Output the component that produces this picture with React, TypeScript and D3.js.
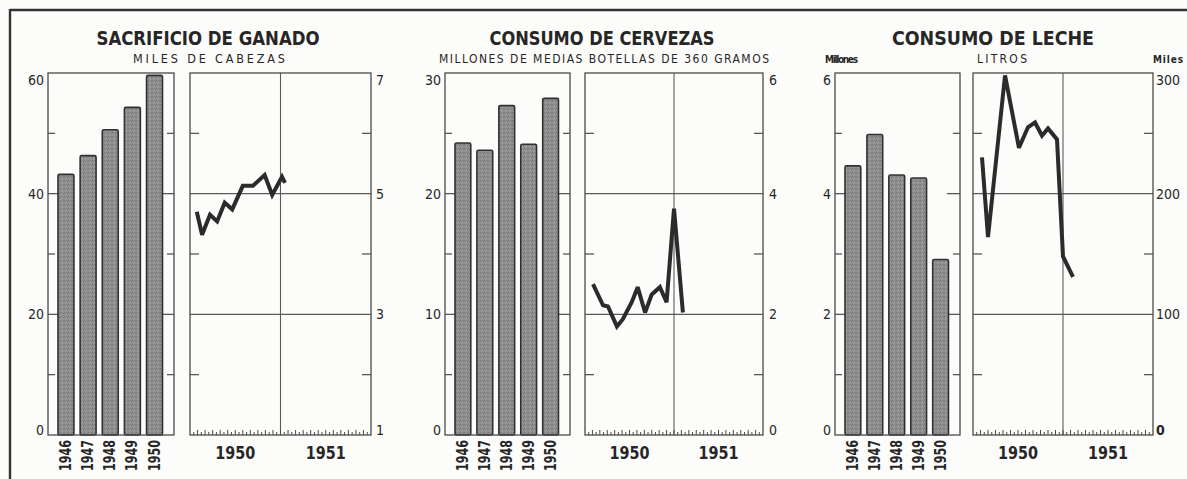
import React from "react";
import * as d3 from "d3";

// ---------- data ----------
const barYears = ["1946", "1947", "1948", "1949", "1950"];

const ganadoBars = [43.2, 46.3, 50.6, 54.3, 59.6];
const cervezaBars = [24.2, 23.6, 27.3, 24.1, 27.9];
const lecheBars = [4.46, 4.98, 4.31, 4.26, 2.91];

// month position (months since Jan 1950) and value
const ganadoMonths = [0.9, 1.6, 2.65, 3.6, 4.6, 5.6, 7.0, 8.35, 9.9, 10.9, 12.2, 12.6];
const ganadoLine = [4.7, 4.32, 4.65, 4.54, 4.85, 4.74, 5.13, 5.13, 5.31, 4.98, 5.28, 5.18];

const cervezaMonths = [1.08, 2.43, 3.1, 4.3, 5.1, 6.3, 7.1, 8.1, 9.0, 10.1, 11.0, 12.0, 13.2];
const cervezaLine = [2.5, 2.15, 2.13, 1.8, 1.92, 2.2, 2.45, 2.03, 2.33, 2.45, 2.2, 3.75, 2.03];

const lecheMonths = [1.2, 2.0, 4.27, 6.13, 7.33, 8.27, 9.2, 10.0, 11.2, 12.0, 13.33];
const lecheLine = [230, 164, 298, 238, 255, 259, 248, 254, 245, 148, 131];

const ganadoLeftTicks = [0, 20, 40, 60];
const ganadoLeftMinor = [10, 30, 50];
const ganadoRightTicks = [1, 3, 5, 7];
const ganadoRightMinor = [2, 4, 6];

const cervezaLeftTicks = [0, 10, 20, 30];
const cervezaLeftMinor = [5, 15, 25];
const cervezaRightTicks = [0, 2, 4, 6];
const cervezaRightMinor = [1, 3, 5];

const lecheLeftTicks = [0, 2, 4, 6];
const lecheLeftMinor = [1, 3, 5];
const lecheRightTicks = [0, 100, 200, 300];
const lecheRightMinor = [50, 150, 250];

const lineYearLabels = ["1950", "1951"];

const titles = ["SACRIFICIO DE GANADO", "CONSUMO DE CERVEZAS", "CONSUMO DE LECHE"];

// ---------- layout ----------
const W = 1187;
const H = 479;
const TOP = 73;
const BOTTOM = 435;
const FONT = "'DejaVu Sans Condensed', 'Liberation Sans Narrow', 'DejaVu Sans', sans-serif";
const INK = "#262626";
const FRAME = "#4a4a4a";

type BarProps = {
  x0: number; x1: number; values: number[]; ticks: number[]; minor: number[];
};

function BarPanel({ x0, x1, values, ticks, minor }: BarProps) {
  const max = d3.max(ticks) as number;
  const y = d3.scaleLinear().domain([0, max]).range([BOTTOM, TOP]);
  const x = d3.scaleBand<string>().domain(barYears).range([x0 + 10, x1 - 11.5]).paddingInner(0.28).paddingOuter(0);
  const inner = ticks.filter((t) => t !== 0 && t !== max);
  return (
    <g>
      {inner.map((t) => (
        <g key={"mj" + t}>
          <line x1={x0} x2={x0 + 13} y1={y(t)} y2={y(t)} stroke={FRAME} strokeWidth={1.2} />
          <line x1={x1 - 13} x2={x1} y1={y(t)} y2={y(t)} stroke={FRAME} strokeWidth={1.2} />
        </g>
      ))}
      {minor.map((t) => (
        <g key={"mn" + t}>
          <line x1={x0} x2={x0 + 7} y1={y(t)} y2={y(t)} stroke={FRAME} strokeWidth={1.2} />
          <line x1={x1 - 7} x2={x1} y1={y(t)} y2={y(t)} stroke={FRAME} strokeWidth={1.2} />
        </g>
      ))}
      {values.map((v, i) => (
        <rect
          key={barYears[i]}
          x={x(barYears[i])}
          y={y(v)}
          width={x.bandwidth()}
          height={BOTTOM - y(v)}
          fill="url(#stipple)"
          stroke="#303030"
          strokeWidth={1.6}
          rx={1.5}
        />
      ))}
      <rect x={x0} y={TOP} width={x1 - x0} height={BOTTOM - TOP} fill="none" stroke={FRAME} strokeWidth={1.3} />
      {ticks.map((t) => {
        let yy = y(t);
        if (t === max) yy += 7;
        if (t === 0) yy -= 5;
        return (
          <text key={"l" + t} x={x0 - 4} y={yy} textAnchor="end" dominantBaseline="central"
            fontFamily={FONT} fontSize={14} fill={INK}>{t}</text>
        );
      })}
      {barYears.map((yr) => {
        const cx = (x(yr) as number) + x.bandwidth() / 2;
        return (
          <text key={"y" + yr} transform={`translate(${cx},${BOTTOM + 5}) rotate(-90)`}
            textAnchor="end" dominantBaseline="central" fontFamily={FONT} fontSize={15}
            fontWeight="bold" fill={INK} textLength={31} lengthAdjust="spacingAndGlyphs">{yr}</text>
        );
      })}
    </g>
  );
}

type LineProps = {
  x0: number; x1: number; months: number[]; values: number[]; ticks: number[]; minor: number[];
  labelDx?: number;
};

function LinePanel({ x0, x1, months, values, ticks, minor, labelDx = 5 }: LineProps) {
  const min = d3.min(ticks) as number;
  const max = d3.max(ticks) as number;
  const y = d3.scaleLinear().domain([min, max]).range([BOTTOM, TOP]);
  const x = d3.scaleLinear().domain([0, 24]).range([x0, x1]);
  const inner = ticks.filter((t) => t !== min && t !== max);
  const half = d3.range(1, 48).map((h) => h / 2);
  const pts: [number, number][] = months.map((m, i) => [m, values[i]]);
  const path = d3.line<[number, number]>().x((d) => x(d[0])).y((d) => y(d[1]))(pts) as string;
  return (
    <g>
      {inner.map((t) => (
        <line key={"g" + t} x1={x0} x2={x1} y1={y(t)} y2={y(t)} stroke="#5a5a5a" strokeWidth={1.1} />
      ))}
      {minor.map((t) => (
        <g key={"mn" + t}>
          <line x1={x0} x2={x0 + 9} y1={y(t)} y2={y(t)} stroke={FRAME} strokeWidth={1.2} />
          <line x1={x1 - 9} x2={x1} y1={y(t)} y2={y(t)} stroke={FRAME} strokeWidth={1.2} />
        </g>
      ))}
      <line x1={x(12)} x2={x(12)} y1={TOP} y2={BOTTOM} stroke="#5a5a5a" strokeWidth={1.1} />
      {half.map((h) => (
        <line key={"t" + h} x1={x(h)} x2={x(h)} y1={BOTTOM} y2={BOTTOM - (Number.isInteger(h) ? 5 : 3)}
          stroke={FRAME} strokeWidth={1} />
      ))}
      <rect x={x0} y={TOP} width={x1 - x0} height={BOTTOM - TOP} fill="none" stroke={FRAME} strokeWidth={1.3} />
      <path d={path} fill="none" stroke="#2b2b2b" strokeWidth={4} strokeLinejoin="miter" strokeMiterlimit={3} strokeLinecap="butt" />
      {ticks.map((t) => {
        let yy = y(t);
        if (t === max) yy += 7;
        if (t === min) yy -= 5;
        return (
          <text key={"r" + t} x={x1 + labelDx} y={yy} textAnchor="start" dominantBaseline="central"
            fontFamily={FONT} fontSize={14} fill={INK} fontWeight={t === 0 && max === 300 ? "bold" : "normal"}>{t}</text>
        );
      })}
      {lineYearLabels.map((lbl, i) => (
        <text key={lbl} x={x(6 + 12 * i)} y={459} textAnchor="middle" fontFamily={FONT}
          fontSize={18} fontWeight="bold" fill={INK} textLength={40} lengthAdjust="spacingAndGlyphs">{lbl}</text>
      ))}
    </g>
  );
}

function Title({ cx, text, len }: { cx: number; text: string; len: number }) {
  return (
    <text x={cx} y={45} textAnchor="middle" fontFamily={FONT} fontSize={20} fontWeight="bold"
      fill={INK} textLength={len} lengthAdjust="spacingAndGlyphs">{text}</text>
  );
}

function Sub({ x, text, len, anchor = "middle", size = 12.5, bold = false }:
  { x: number; text: string; len: number; anchor?: string; size?: number; bold?: boolean }) {
  return (
    <text x={x} y={63} textAnchor={anchor as any} fontFamily={FONT} fontSize={size}
      fontWeight={bold ? "bold" : "normal"} fill={INK} textLength={len} lengthAdjust="spacing">{text}</text>
  );
}

export default function App() {
  return (
    <svg width={W} height={H} viewBox={`0 0 ${W} ${H}`}
      style={{ position: "absolute", left: 0, top: 0, display: "block", background: "#fcfcfa" }}>
      <defs>
        <pattern id="stipple" width="4" height="4" patternUnits="userSpaceOnUse">
          <rect width="4" height="4" fill="#8e8e8e" />
          <rect x="0" y="0" width="1" height="1" fill="#747474" />
          <rect x="2" y="2" width="1" height="1" fill="#a8a8a8" />
          <rect x="3" y="1" width="1" height="1" fill="#7a7a7a" />
          <rect x="1" y="3" width="1" height="1" fill="#9e9e9e" />
        </pattern>
      </defs>
      <line x1={10} x2={W} y1={10} y2={10} stroke="#333" strokeWidth={2.4} />
      <line x1={10} x2={10} y1={9} y2={H} stroke="#333" strokeWidth={2.4} />

      <Title cx={208} text={titles[0]} len={223} />
      <Sub x={209} text="MILES DE CABEZAS" len={152} />
      <BarPanel x0={48} x1={174} values={ganadoBars} ticks={ganadoLeftTicks} minor={ganadoLeftMinor} />
      <LinePanel x0={190} x1={371} months={ganadoMonths} values={ganadoLine} ticks={ganadoRightTicks} minor={ganadoRightMinor} />

      <Title cx={602} text={titles[1]} len={225} />
      <Sub x={604} text="MILLONES DE MEDIAS  BOTELLAS DE 360 GRAMOS" len={330} size={12} />
      <BarPanel x0={445} x1={570} values={cervezaBars} ticks={cervezaLeftTicks} minor={cervezaLeftMinor} />
      <LinePanel x0={585} x1={763} months={cervezaMonths} values={cervezaLine} ticks={cervezaRightTicks} minor={cervezaRightMinor} labelDx={6} />

      <Title cx={993} text={titles[2]} len={202} />
      <Sub x={825} text="Millones" len={33} anchor="start" size={10} bold />
      <Sub x={977} text="LITROS" len={50} anchor="start" size={12} />
      <Sub x={1153} text="Miles" len={30} anchor="start" size={10} bold />
      <BarPanel x0={835} x1={960} values={lecheBars} ticks={lecheLeftTicks} minor={lecheLeftMinor} />
      <LinePanel x0={973} x1={1153} months={lecheMonths} values={lecheLine} ticks={lecheRightTicks} minor={lecheRightMinor} labelDx={3} />
    </svg>
  );
}
